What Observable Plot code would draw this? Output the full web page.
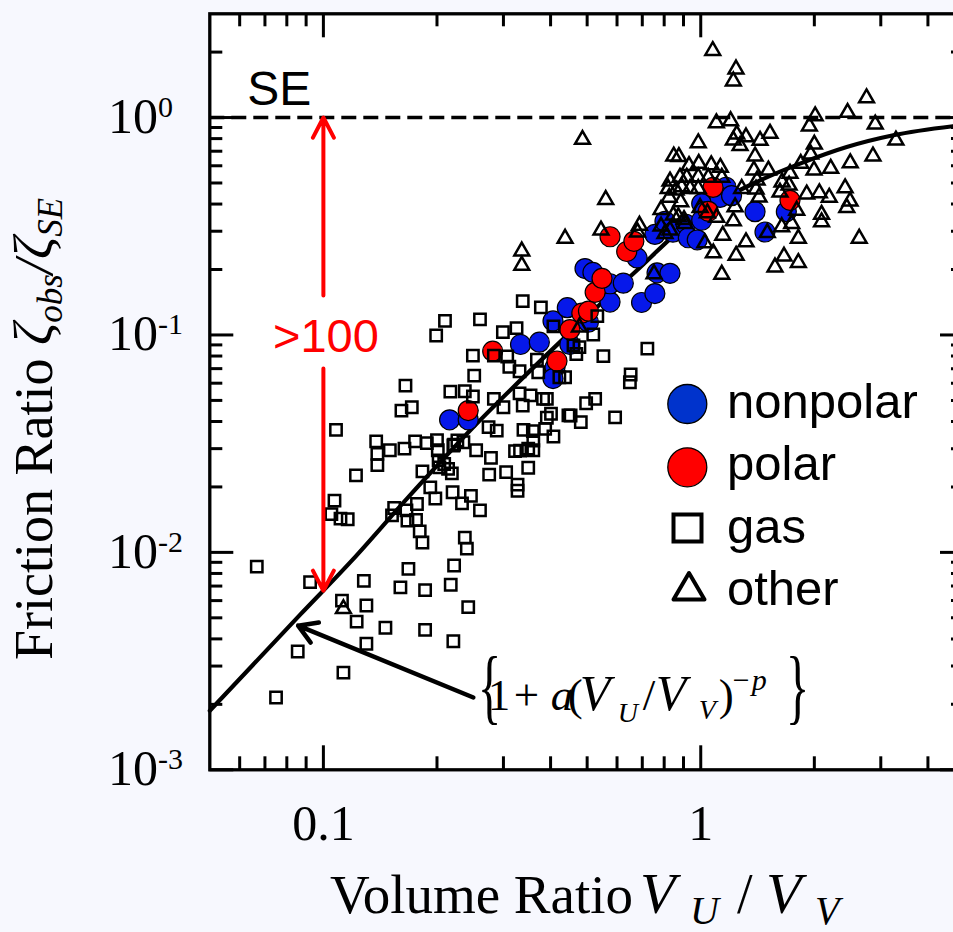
<!DOCTYPE html>
<html><head><meta charset="utf-8">
<script src="https://cdn.jsdelivr.net/npm/d3@7"></script>
<script src="https://cdn.jsdelivr.net/npm/@observablehq/plot@0.6"></script>
<style>
html,body{margin:0;padding:0;background:#f7f8fe;overflow:hidden;}
#wrap{width:953px;height:932px;overflow:hidden;position:relative;}
#wrap svg{max-width:none !important;display:block;}
</style></head><body><div id="wrap"></div>
<script>
// ---------- data ----------
const gasX = [0.0666,0.0922,0.128,0.112,0.130,0.1225,0.146,0.130,0.0855,0.113,
0.0749,0.168,0.160,0.186,0.222,0.2175,0.242,0.186,0.221,0.108,
0.138,0.150,0.164,0.175,0.188,0.200,0.201,0.139,0.139,0.122,
0.183,0.192,0.198,0.219,0.209,0.202,0.222,0.235,0.220,0.233,
0.107,0.105,0.111,0.116,0.154,0.152,0.166,0.177,0.167,0.176,
0.180,0.183,0.237,0.240,0.246,0.199,0.249,0.283,0.307,0.311,
0.331,0.371,0.368,0.251,0.237,0.217,0.249,0.283,0.331,0.354,
0.382,0.165,0.1715,0.161,0.300,0.3375,0.391,0.401,0.446,0.274,
0.288,0.339,0.359,0.360,0.407,0.387,0.2265,0.221,0.254,0.322,
0.349,0.278,0.349,0.305,0.275,0.327,0.327,0.214,0.422,0.3375,
0.377,0.210,0.260,0.299,0.325,0.407,0.532,0.519,0.477,0.468,
0.552,0.652,0.649,0.525,0.497,0.452,0.481,0.593,0.722,0.437,
0.460,0.260,0.360,0.332,0.203,0.391];
const gasY = [0.0086,0.0073,0.0074,0.0060,0.0057,0.0048,0.0045,0.0038,0.0035,0.0028,
0.00215,0.0084,0.0069,0.0067,0.0087,0.0071,0.0056,0.0044,0.0039,0.0366,
0.0324,0.0295,0.0300,0.0324,0.0318,0.0328,0.0295,0.0284,0.0252,0.0226,
0.0236,0.0199,0.0177,0.0231,0.0255,0.0265,0.0313,0.0321,0.0189,0.0168,
0.0173,0.0150,0.0143,0.0142,0.0160,0.0148,0.0156,0.0167,0.0140,0.0141,
0.0125,0.0111,0.0117,0.0104,0.0182,0.0994,0.0804,0.0804,0.0796,0.0714,
0.0681,0.0674,0.0769,0.0650,0.0551,0.0549,0.0521,0.0508,0.0539,0.0527,
0.0508,0.0585,0.0465,0.0449,0.0465,0.0473,0.0416,0.0434,0.0427,0.0377,
0.0363,0.0366,0.0361,0.0327,0.0341,0.0370,0.0327,0.0310,0.0295,0.0292,
0.0300,0.0272,0.0245,0.0234,0.0228,0.0205,0.0192,0.0242,0.0639,0.143,
0.134,0.116,0.118,0.103,0.1075,0.1095,0.122,0.1005,0.0879,0.0817,
0.0799,0.0658,0.0606,0.0508,0.0485,0.0426,0.0397,0.0418,0.0865,0.0639,
0.0894,0.0156,0.0295,0.0294,0.0246,0.0508];

const otherX = [1.076,1.24,1.22,2.75,2.45,2.01,1.94,2.90,3.29,1.10,
1.20,0.486,0.985,1.526,1.246,1.318,1.22,1.436,1.271,2.00,
1.956,2.86,2.49,0.848,0.875,0.931,0.988,1.066,1.127,1.393,
1.383,1.511,1.841,1.996,2.21,1.724,1.642,1.714,1.622,1.410,
1.401,1.427,1.909,2.062,2.19,2.413,2.487,2.438,1.796,2.09,
2.09,1.639,1.742,1.814,2.63,1.662,1.573,1.814,1.318,1.241,
1.144,1.080,1.137,1.22,0.560,0.437,0.544,0.688,0.680,0.752,
1.501,1.025,0.785,0.829,0.820,0.881,0.918,0.985,1.047,1.137,
0.860,0.890,0.937,0.985,0.825,0.885,1.284,1.233,0.846,0.903,
0.785,0.829,0.908,0.996,1.041,1.102,0.804,0.872,0.3355,0.3355,
0.477,0.113];
const otherY = [2.03,1.67,1.47,1.23,1.054,1.017,0.913,0.931,0.786,0.944,
0.965,0.792,0.764,0.844,0.837,0.813,0.786,0.784,0.742,0.753,
0.678,0.664,0.618,0.664,0.660,0.600,0.614,0.605,0.589,0.664,
0.572,0.572,0.614,0.572,0.583,0.553,0.504,0.488,0.453,0.5145,
0.468,0.430,0.444,0.450,0.429,0.474,0.412,0.385,0.374,0.358,
0.331,0.314,0.325,0.278,0.278,0.230,0.205,0.215,0.2675,0.232,
0.287,0.238,0.190,0.334,0.419,0.278,0.303,0.319,0.297,0.191,
0.295,0.265,0.377,0.509,0.471,0.530,0.530,0.533,0.530,0.530,
0.463,0.479,0.471,0.471,0.429,0.409,0.471,0.388,0.355,0.339,
0.316,0.303,0.325,0.385,0.364,0.347,0.2925,0.349,0.243,0.209,
0.1086,0.0055];

const nonpolarX = [0.216,0.242,0.333,0.3735,0.406,0.411,0.406,0.443,0.450,0.4935,
0.518,0.504,0.575,0.575,0.6235,0.678,0.697,0.756,0.766,0.829,
0.756,0.804,0.844,0.914,0.927,0.979,1.006,1.025,1.006,1.104,
1.167,1.125,1.207,1.393,1.48,1.686];
const nonpolarY = [0.0407,0.0407,0.0904,0.0926,0.116,0.0709,0.0630,0.1335,0.0904,0.202,
0.194,0.1145,0.1416,0.172,0.173,0.226,0.141,0.155,0.193,0.192,
0.290,0.333,0.297,0.323,0.280,0.274,0.402,0.368,0.337,0.458,
0.478,0.429,0.437,0.369,0.2975,0.369];

const polarX = [0.242,0.281,0.416,0.450,0.484,0.504,0.525,0.5475,0.575,0.6365,0.665,1.078,1.0475,1.724];
const polarY = [0.0449,0.0842,0.0759,0.1057,0.126,0.1287,0.157,0.182,0.283,0.242,0.2695,0.477,0.3705,0.416];

// fitted curve {1 + a (VU/VV)^-p}^-1
const curveX = [0.05,0.0868,0.1189,0.1663,0.2447,0.4325,0.6767,1.0,1.436,1.833,2.437,3.238,4.66,5];
const curveY = [0.00187,0.00517,0.00916,0.01762,0.03634,0.0960,0.198,0.365,0.514,0.614,0.732,0.829,0.912,0.925];

// axes
const xMajor = [0.1, 1];
const xMinor = [0.06,0.07,0.08,0.09,0.2,0.3,0.4,0.5,0.6,0.7,0.8,0.9,2,3,4];
const yMajor = [0.001, 0.01, 0.1, 1];
const yExponents = ["-3", "-2", "-1", "0"];
const yMinor = [0.002,0.003,0.004,0.005,0.006,0.007,0.008,0.009,
                0.02,0.03,0.04,0.05,0.06,0.07,0.08,0.09,
                0.2,0.3,0.4,0.5,0.6,0.7,0.8,0.9,2];
const seLevel = [1];

// annotations
const seLabel = {text: "SE", x: 0.063, y: 1.14};
const ratioLabel = {text: ">100", x: 0.1, y: 0.0831};
const ratioArrowX1 = [0.1, 0.1], ratioArrowY1 = [0.152, 0.0701];
const ratioArrowX2 = [0.1, 0.1], ratioArrowY2 = [1, 0.00666];
const fitArrow = {x1: 0.2497, y1: 0.00215, x2: 0.0857, y2: 0.0046};
const formulaAnchor = {x: 0.28, y: 0.00187};
const legendNames = ["nonpolar", "polar", "gas", "other"];

// ---------- build ----------
const BLUE = "#0618ea", RED = "#ff0000";
const SERIF = "'Liberation Serif', 'Times New Roman', serif";
const SANS = "'Liberation Sans', Arial, sans-serif";
const W = 975, H = 932, mL = 209.3, mR = 11, mT = 13.3, mB = 162.7;
const innerW = W - mL - mR, innerH = H - mT - mB;

const pts = (xs, ys) => xs.map((x, i) => ({x, y: ys[i]}));
const gas = pts(gasX, gasY), other = pts(otherX, otherY);
const nonpolar = pts(nonpolarX, nonpolarY), polar = pts(polarX, polarY);
const curve = pts(curveX, curveY);
const ratioArrows = ratioArrowX1.map((x1, i) => ({x1, y1: ratioArrowY1[i], x2: ratioArrowX2[i], y2: ratioArrowY2[i]}));

const plot = Plot.plot({
  width: W, height: H,
  marginLeft: mL, marginRight: mR, marginTop: mT, marginBottom: mB,
  style: {background: "transparent", color: "black", overflow: "visible", maxWidth: "none"},
  x: {type: "log", domain: [0.05, 5]},
  y: {type: "log", domain: [0.001, 3], axis: null},
  marks: [
    Plot.frame({fill: "white", stroke: "none"}),
    Plot.ruleY(seLevel, {y: d => d, stroke: "black", strokeWidth: 3.5, strokeDasharray: "15,7"}),
    Plot.line(curve, {x: "x", y: "y", stroke: "black", strokeWidth: 4.2, curve: "monotone-x"}),
    Plot.dot(nonpolar, {x: "x", y: "y", r: 10, fill: BLUE, stroke: "black", strokeWidth: 1.2}),
    Plot.dot(polar, {x: "x", y: "y", r: 10, fill: RED, stroke: "black", strokeWidth: 1.2}),
    Plot.dot(gas, {x: "x", y: "y", symbol: "square", r: 6.4, fill: "none", stroke: "black", strokeWidth: 2.5}),
    Plot.dot(other, {x: "x", y: "y", symbol: "triangle", r: 5.5, fill: "none", stroke: "black", strokeWidth: 2.5}),
    Plot.arrow(ratioArrows, {x1: "x1", y1: "y1", x2: "x2", y2: "y2", stroke: RED, strokeWidth: 4, headLength: 8.5, headAngle: 55, strokeLinecap: "round"}),
    Plot.arrow([fitArrow], {x1: "x1", y1: "y1", x2: "x2", y2: "y2", stroke: "black", strokeWidth: 4.5, headLength: 7, headAngle: 62, strokeLinecap: "round"}),
    // inward ticks on all four sides
    Plot.tickX(xMajor, {x: d => d, stroke: "black", strokeWidth: 3, insetTop: innerH - 24}),
    Plot.tickX(xMajor, {x: d => d, stroke: "black", strokeWidth: 3, insetBottom: innerH - 24}),
    Plot.tickX(xMinor, {x: d => d, stroke: "black", strokeWidth: 3, insetTop: innerH - 13}),
    Plot.tickX(xMinor, {x: d => d, stroke: "black", strokeWidth: 3, insetBottom: innerH - 13}),
    Plot.tickY(yMajor, {y: d => d, stroke: "black", strokeWidth: 3, insetRight: innerW - 24}),
    Plot.tickY(yMajor, {y: d => d, stroke: "black", strokeWidth: 3, insetLeft: innerW - 24}),
    Plot.tickY(yMinor, {y: d => d, stroke: "black", strokeWidth: 3, insetRight: innerW - 13}),
    Plot.tickY(yMinor, {y: d => d, stroke: "black", strokeWidth: 3, insetLeft: innerW - 13}),
    Plot.axisX(xMajor, {tickSize: 0, tickPadding: 35, tickFormat: d => String(d), fontSize: 50, fontFamily: SERIF, label: null}),
    Plot.frame({stroke: "black", strokeWidth: 3.3})
  ]
});
plot.style.maxWidth = "none";
document.getElementById("wrap").appendChild(plot);

const svg = d3.select(plot);
const sx = plot.scale("x"), sy = plot.scale("y");

const ann = svg.append("g").attr("fill", "black").attr("text-anchor", "start");

// y tick labels 10^n (left-aligned column, as in the reference)
yMajor.forEach((v, i) => {
  const t = ann.append("text").attr("x", 108).attr("y", sy.apply(v) + 16)
    .attr("font-family", SERIF).attr("font-size", 50).text("10");
  t.append("tspan").attr("font-size", 30).attr("dy", -16).text(yExponents[i]);
});

// axis titles
const yt = ann.append("text").attr("transform", "translate(52,660) rotate(-90)")
  .attr("font-family", SERIF).attr("font-size", 54);
yt.append("tspan").text("Friction Ratio ");
yt.append("tspan").attr("font-style", "italic").attr("font-size", 55).text("ζ");
yt.append("tspan").attr("font-style", "italic").attr("font-size", 35).attr("dy", 10).text("obs");
yt.append("tspan").attr("font-style", "italic").attr("dy", -10).text("/");
yt.append("tspan").attr("font-style", "italic").attr("font-size", 55).text("ζ");
yt.append("tspan").attr("font-style", "italic").attr("font-size", 35).attr("dy", 10).text("SE");

const xt = ann.append("text").attr("font-family", SERIF).attr("font-size", 55);
const xtPieces = [
  [330, "Volume Ratio", false, 913, 55], [640, "V", true, 913, 58], [690, "U", true, 924, 40],
  [737, "/", false, 913, 56], [766, "V", true, 913, 58], [815, "V", true, 924, 40]
];
xtPieces.forEach(([x, s, it, y, fs]) => {
  xt.append("tspan").attr("x", x).attr("y", y).attr("font-size", fs)
    .attr("font-style", it ? "italic" : "normal").text(s);
});

// SE label
ann.append("text").attr("x", sx.apply(seLabel.x)).attr("y", sy.apply(seLabel.y))
  .attr("font-family", SANS).attr("font-size", 48).text(seLabel.text);

// >100 label
ann.append("text").attr("x", sx.apply(ratioLabel.x) + 3).attr("y", sy.apply(ratioLabel.y))
  .attr("text-anchor", "middle").attr("fill", RED)
  .attr("font-family", SANS).attr("font-size", 47).text(ratioLabel.text);

// formula {1 + a(VU / VV)^-p}
const fx = sx.apply(formulaAnchor.x), fy = sy.apply(formulaAnchor.y);
ann.append("text").attr("transform", `translate(${fx - 14},${fy + 4}) scale(0.6,1)`)
  .attr("font-family", SERIF).attr("font-size", 82).text("{");
ann.append("text").attr("transform", `translate(${fx + 294},${fy + 4}) scale(0.6,1)`)
  .attr("font-family", SERIF).attr("font-size", 82).text("}");
const ft = ann.append("text").attr("font-family", SERIF).attr("font-size", 45);
const pieces = [
  [-4, "1", false, 0, 45], [22, "+", false, 0, 45], [59, "a", true, 0, 45], [76, "(", false, 0, 45],
  [88, "V", true, 0, 50], [126, "U", true, 12, 28], [151, "/", false, 0, 45], [164, "V", true, 0, 50],
  [207, "V", true, 9, 28], [227, ")", false, 0, 45], [241, "−", false, -20, 30], [260, "p", true, -20, 30]
];
pieces.forEach(([dx, s, it, dy, fs]) => {
  ft.append("tspan").attr("x", fx + dx).attr("y", fy + dy).attr("font-size", fs)
    .attr("font-style", it ? "italic" : "normal").text(s);
});

// legend
const lg = ann.append("g");
lg.append("circle").attr("cx", 687.3).attr("cy", 404).attr("r", 19.5).attr("fill", "#0033cc").attr("stroke", "black").attr("stroke-width", 1.3);
lg.append("circle").attr("cx", 687.3).attr("cy", 467.3).attr("r", 19.5).attr("fill", RED).attr("stroke", "black").attr("stroke-width", 1.3);
lg.append("rect").attr("x", 673.5).attr("y", 514.5).attr("width", 28).attr("height", 27).attr("fill", "none").attr("stroke", "black").attr("stroke-width", 4);
lg.append("path").attr("d", "M689,573 L673.5,599.5 L704.5,599.5 Z").attr("fill", "none").attr("stroke", "black").attr("stroke-width", 4).attr("stroke-linejoin", "round");
const lgBase = [418, 480, 543, 605];
legendNames.forEach((n, i) => {
  lg.append("text").attr("x", 727).attr("y", lgBase[i]).attr("font-family", SANS).attr("font-size", 49).text(n);
});
</script></body></html>
